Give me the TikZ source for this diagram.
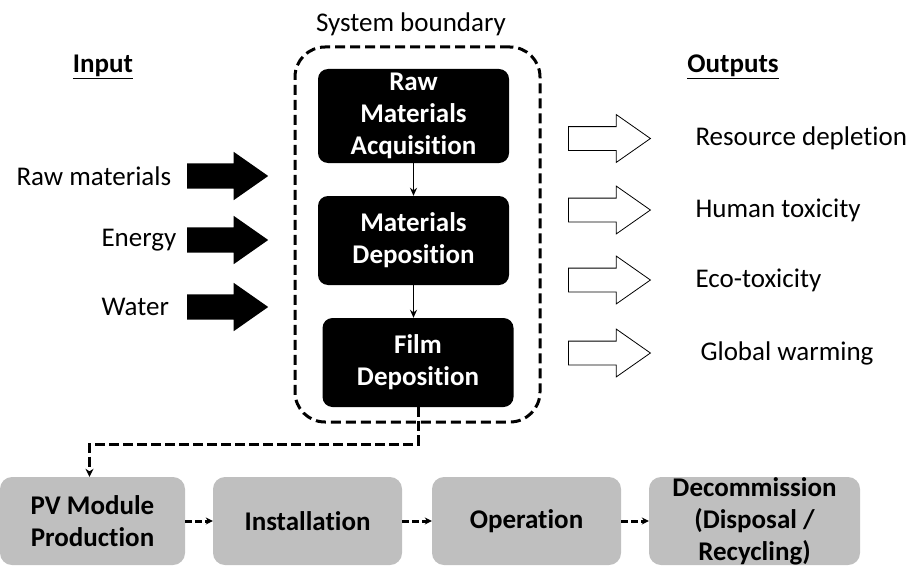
\documentclass[tikz,border=0pt]{standalone}
\usepackage{fontspec}
\setmainfont{Carlito}[Ligatures=NoCommon]
\usetikzlibrary{shapes.arrows, arrows.meta}
\definecolor{boxgray}{RGB}{191,191,191}

\begin{document}
\begin{tikzpicture}[x=1pt, y=-1pt,
    % Define styles
    stage/.style={rectangle, rounded corners=10pt, fill=black, text=white, minimum width=191pt, minimum height=89pt, align=center, inner sep=0pt, font=\fontsize{27}{32}\selectfont\bfseries},
    phase/.style={rectangle, rounded corners=12pt, fill=boxgray, minimum height=88pt, align=center, inner sep=0pt, font=\fontsize{27}{32}\selectfont\bfseries},
    boundary/.style={rectangle, rounded corners=30pt, draw=black, line width=3pt, dash pattern=on 10pt off 5pt, minimum width=245pt, minimum height=375pt},
    inarrow/.style={single arrow, anchor=tail, fill=black, minimum height=81pt, single arrow head extend=11.5pt, single arrow tip angle=70, inner sep=0pt},
    outarrow/.style={single arrow, anchor=tail, draw=black, fill=white, line width=0.8pt, minimum height=82pt, single arrow head extend=12pt, single arrow tip angle=70, inner sep=0pt},
    txt/.style={font=\fontsize{27}{32}\selectfont},
    heading/.style={font=\fontsize{27}{32}\selectfont\bfseries},
    flow/.style={-{Stealth[length=8pt, width=7pt]}, line width=1.3pt},
    dashlink/.style={-{Stealth[length=8pt, width=8pt]}, line width=3pt, dash pattern=on 10pt off 4pt},
    steplink/.style={-{Stealth[length=7pt, width=7pt]}, line width=3pt, dash pattern=on 7pt off 3pt}
]
\useasboundingbox (0,0) rectangle (909,567);

% Headings
\node[heading] (input) at (103, 67) {\underline{Input}};
\node[heading] (outputs) at (733, 67) {\underline{Outputs}};
\node[txt] (sbtitle) at (411, 24) {System boundary};

% System boundary
\node[boundary] (sysbound) at (417.5, 234.5) {};

% Stages inside the boundary
\node[stage, minimum height=94pt] (rma) at (413.5, 116) {Raw\\Materials\\Acquisition};
\node[stage] (md) at (413.5, 240.5) {Materials\\Deposition};
\node[stage] (film) at (418, 362.5) {Film\\Deposition};

% Inputs
\node[inarrow] (rawin) at (187, 176) {\rule{0pt}{25pt}};
\node[inarrow] (energyin) at (187, 240) {\rule{0pt}{25pt}};
\node[inarrow] (waterin) at (187, 307) {\rule{0pt}{25pt}};
\node[txt, anchor=west] (rawtxt) at (13, 176) {Raw materials};
\node[txt, anchor=west] (energytxt) at (98, 240) {Energy};
\node[txt, anchor=west] (watertxt) at (98, 307) {Water};

% Outputs
\node[outarrow] (resout) at (568, 138.5) {\rule{0pt}{23pt}};
\node[outarrow] (humout) at (568, 210) {\rule{0pt}{23pt}};
\node[outarrow] (ecoout) at (568, 280) {\rule{0pt}{23pt}};
\node[outarrow] (globout) at (568, 353) {\rule{0pt}{23pt}};
\node[txt, anchor=west] (restxt) at (692, 138.5) {Resource depletion};
\node[txt, anchor=west] (humtxt) at (692, 210) {Human toxicity};
\node[txt, anchor=west] (ecotxt) at (692, 280) {Eco-toxicity};
\node[txt, anchor=west] (globtxt) at (697, 353) {Global warming};

% Life cycle phases
\node[phase, minimum width=185pt] (pv) at (92.5, 521) {PV Module\\Production};
\node[phase, minimum width=189pt] (install) at (307.5, 521) {Installation};
\node[phase, minimum width=189pt] (operate) at (526.5, 521) {Operation};
\node[phase, minimum width=211pt] (decom) at (754.5, 521) {Decommission\\(Disposal /\\Recycling)};

% Relationships
\draw[flow] (rma) -- (md);
\draw[flow] (md.south) -- (md.south |- film.north);
\draw[dashlink] (film.south) -- ++(0,37) -| ([xshift=-3pt]pv.north);
\draw[steplink] (pv) -- (install);
\draw[steplink] (install) -- (operate);
\draw[steplink] (operate) -- (decom);

\end{tikzpicture}
\end{document}
